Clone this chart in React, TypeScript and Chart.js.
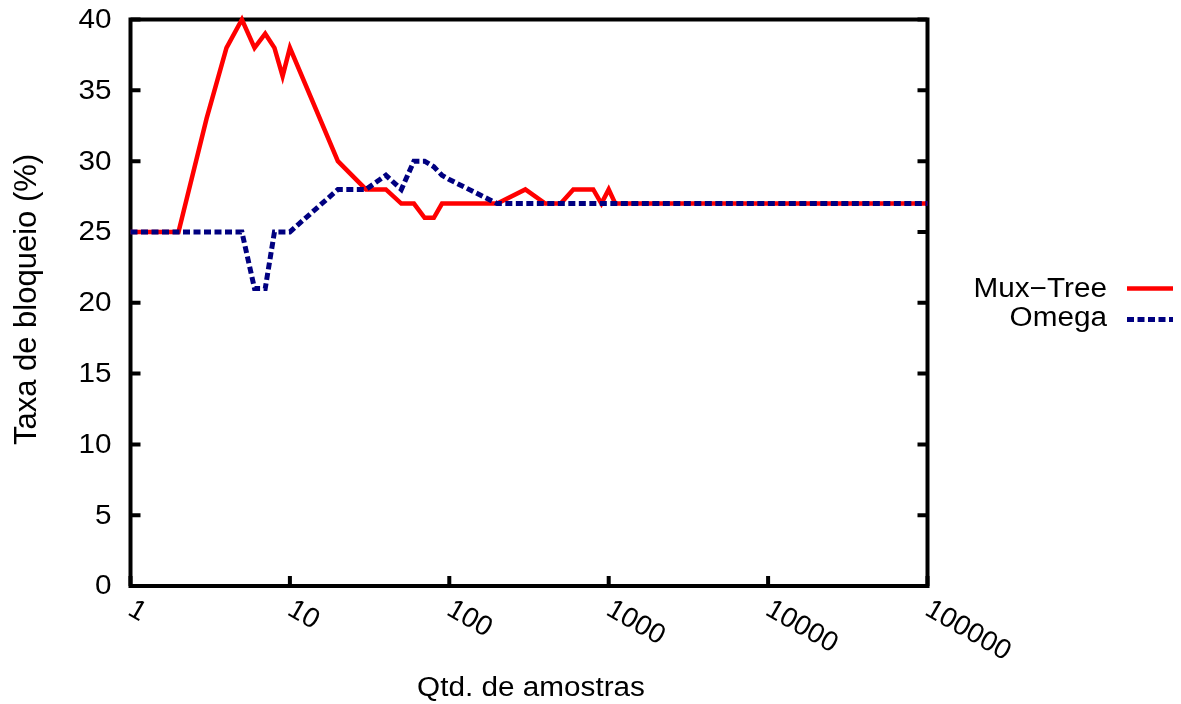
import React, { useEffect, useRef } from "react";
import { Chart, registerables } from "chart.js";

Chart.register(...registerables);

// Sample sizes (x, logarithmic)
const samples: number[] = [
  1, 2, 3, 4, 5, 6, 7, 8, 9, 10,
  20, 30, 40, 50, 60, 70, 80, 90, 100,
  200, 300, 400, 500, 600, 700, 800, 900, 1000, 1100,
  2000, 3000, 4000, 5000, 6000, 7000, 8000, 9000, 10000,
  20000, 30000, 40000, 50000, 60000, 70000, 80000, 90000, 100000,
];

// Blocking rate (%) per series
const muxTree: number[] = [
  25, 25, 33, 38, 40, 38, 39, 38, 36, 38,
  30, 28, 28, 27, 27, 26, 26, 27, 27,
  27, 28, 27, 27, 28, 28, 28, 27, 28, 27,
  27, 27, 27, 27, 27, 27, 27, 27, 27,
  27, 27, 27, 27, 27, 27, 27, 27, 27,
];
const omega: number[] = [
  25, 25, 25, 25, 25, 21, 21, 25, 25, 25,
  28, 28, 29, 28, 30, 30, 29.6, 29, 28.7,
  27, 27, 27, 27, 27, 27, 27, 27, 27, 27,
  27, 27, 27, 27, 27, 27, 27, 27, 27,
  27, 27, 27, 27, 27, 27, 27, 27, 27,
];

const seriesNames: string[] = ["Mux\u2212Tree", "Omega"];
const seriesColors: string[] = ["#ff0000", "#000080"];
const xTicks: number[] = [1, 10, 100, 1000, 10000, 100000];
const yTicks: number[] = [0, 5, 10, 15, 20, 25, 30, 35, 40];
const xTitle = "Qtd. de amostras";
const yTitle = "Taxa de bloqueio (%)";

const FONT = '"Liberation Sans", Arial, Helvetica, sans-serif';

export default function App() {
  const ref = useRef<HTMLCanvasElement | null>(null);

  useEffect(() => {
    const canvas = ref.current;
    if (!canvas) return;

    const hText = (
      ctx: CanvasRenderingContext2D,
      text: string,
      x: number,
      y: number,
      align: CanvasTextAlign,
      baseline: CanvasTextBaseline,
      size: number,
      sx: number
    ) => {
      ctx.save();
      ctx.translate(x, y);
      ctx.scale(sx, 1);
      ctx.font = `${size}px ${FONT}`;
      ctx.fillStyle = "#000";
      ctx.textAlign = align;
      ctx.textBaseline = baseline;
      ctx.fillText(text, 0, 0);
      ctx.restore();
    };

    const framePlugin = {
      id: "gnuplotFrame",
      beforeDatasetsDraw(chart: any) {
        const { ctx, chartArea } = chart;
        const { left, right, top, bottom } = chartArea;
        const xs = chart.scales.x;
        const ys = chart.scales.y;
        ctx.save();
        ctx.strokeStyle = "#000";
        ctx.lineWidth = 4;
        ctx.lineCap = "butt";
        ctx.beginPath();
        for (const v of yTicks) {
          const py = ys.getPixelForValue(v);
          ctx.moveTo(left, py);
          ctx.lineTo(left + 10, py);
          ctx.moveTo(right, py);
          ctx.lineTo(right - 10, py);
        }
        for (const v of xTicks) {
          const px = xs.getPixelForValue(v);
          ctx.moveTo(px, bottom);
          ctx.lineTo(px, bottom - 10);
        }
        ctx.stroke();
        ctx.lineJoin = "miter";
        ctx.strokeRect(left, top, right - left, bottom - top);
        ctx.restore();
      },
      afterDraw(chart: any) {
        const { ctx, chartArea } = chart;
        const { left, bottom } = chartArea;
        const xs = chart.scales.x;
        const ys = chart.scales.y;
        // y tick labels
        for (const v of yTicks) {
          hText(ctx, String(v), left - 19, ys.getPixelForValue(v) + 1, "right", "middle", 27, 1.1);
        }
        // x tick labels, rotated clockwise
        for (const v of xTicks) {
          const px = xs.getPixelForValue(v);
          ctx.save();
          ctx.translate(px - 4, bottom + 28);
          ctx.rotate(Math.PI / 6);
          ctx.font = `28px ${FONT}`;
          ctx.fillStyle = "#000";
          ctx.textAlign = "left";
          ctx.textBaseline = "alphabetic";
          ctx.fillText(String(v), 0, 0);
          ctx.restore();
        }
        // axis titles
        hText(ctx, xTitle, 531, 696, "center", "alphabetic", 27, 1.1);
        ctx.save();
        ctx.translate(35.5, 299.5);
        ctx.rotate(-Math.PI / 2);
        ctx.font = `31px ${FONT}`;
        ctx.fillStyle = "#000";
        ctx.textAlign = "center";
        ctx.textBaseline = "alphabetic";
        ctx.fillText(yTitle, 0, 0);
        ctx.restore();
        // legend
        const rows = [
          { base: 297, lineY: 288.5, dash: [] as number[], w: 4.5 },
          { base: 326, lineY: 319.5, dash: [7, 3.5], w: 5 },
        ];
        rows.forEach((r, i) => {
          hText(ctx, seriesNames[i], 1107, r.base, "right", "alphabetic", 27, 1.1);
          ctx.save();
          ctx.strokeStyle = seriesColors[i];
          ctx.lineWidth = r.w;
          ctx.lineCap = "butt";
          ctx.setLineDash(r.dash);
          ctx.beginPath();
          ctx.moveTo(1127, r.lineY);
          ctx.lineTo(1173, r.lineY);
          ctx.stroke();
          ctx.restore();
        });
      },
    };

    const chart = new Chart(canvas, {
      type: "line",
      data: {
        datasets: [
          {
            label: seriesNames[0],
            data: samples.map((x, i) => ({ x, y: muxTree[i] })),
            borderColor: seriesColors[0],
            backgroundColor: seriesColors[0],
            borderWidth: 4.5,
            pointRadius: 0,
            tension: 0,
            borderJoinStyle: "miter",
            clip: false,
            order: 1,
          },
          {
            label: seriesNames[1],
            data: samples.map((x, i) => ({ x, y: omega[i] })),
            borderColor: seriesColors[1],
            backgroundColor: seriesColors[1],
            borderWidth: 5,
            borderDash: [7, 3.5],
            borderCapStyle: "butt",
            pointRadius: 0,
            tension: 0,
            borderJoinStyle: "miter",
            clip: false,
            order: 0,
          },
        ],
      },
      options: {
        animation: false,
        responsive: false,
        devicePixelRatio: 1,
        layout: { padding: { left: 130.5, right: 253.5, top: 19.5, bottom: 118 } },
        plugins: { legend: { display: false }, tooltip: { enabled: false } },
        scales: {
          x: { type: "logarithmic", min: 1, max: 100000, display: false },
          y: { type: "linear", min: 0, max: 40, display: false },
        },
      },
      plugins: [framePlugin],
    } as any);

    return () => chart.destroy();
  }, []);

  return (
    <div style={{ position: "fixed", left: 0, top: 0, width: 1181, height: 704, background: "#fff" }}>
      <canvas ref={ref} width={1181} height={704} style={{ display: "block" }} />
    </div>
  );
}
